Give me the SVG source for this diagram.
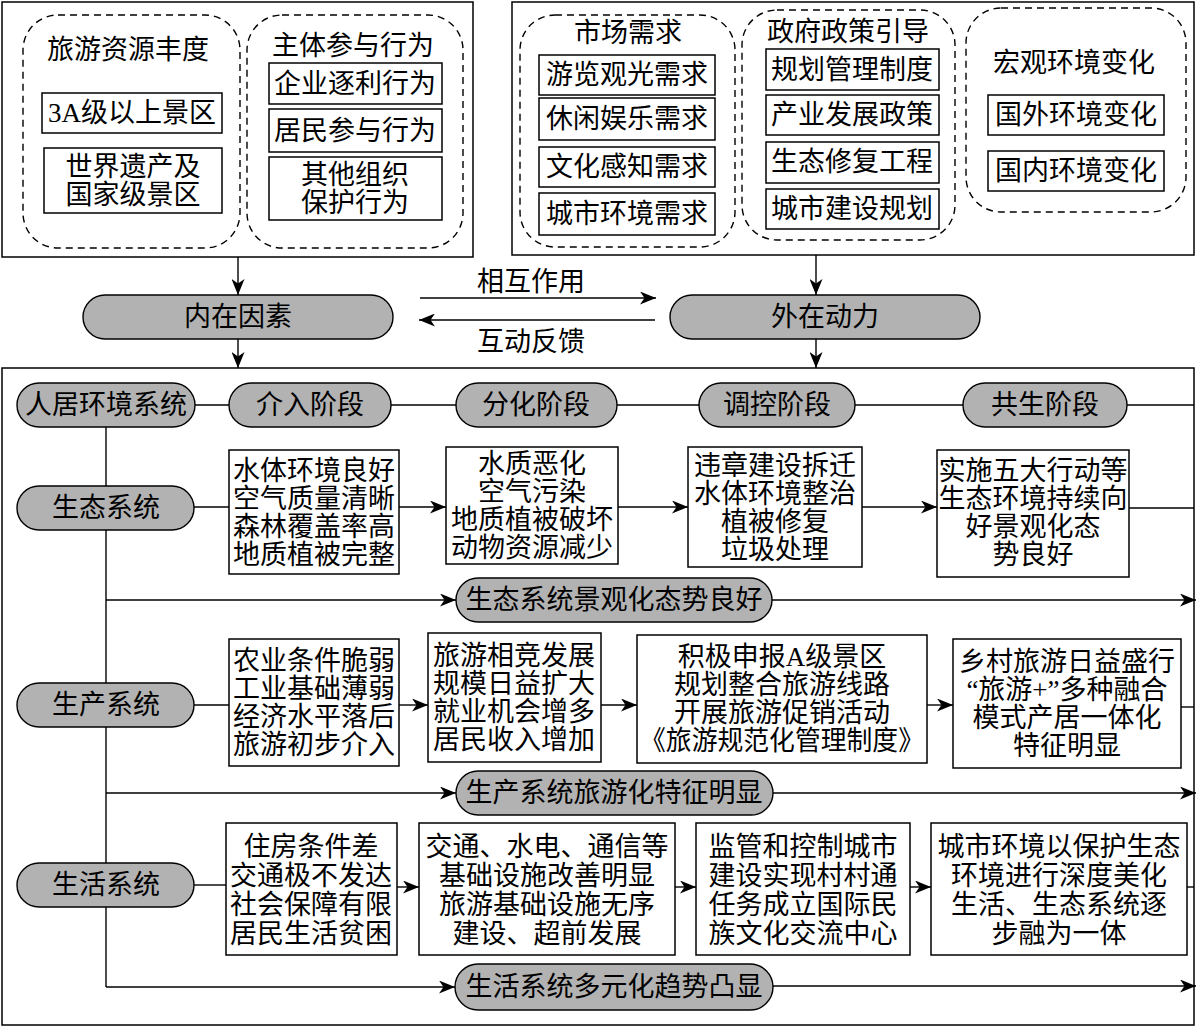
<svg xmlns="http://www.w3.org/2000/svg" width="1200" height="1027" viewBox="0 0 1200 1027">
<defs>
<marker id="ah" markerUnits="userSpaceOnUse" markerWidth="17" markerHeight="13" refX="16" refY="6.5" orient="auto">
<path d="M0,0 L16,6.5 L0,13 L4.5,6.5 z" fill="#000"/>
</marker>
<style>
text{font-family:"Liberation Serif","Noto Sans CJK SC",serif;font-size:27px;fill:#000;text-anchor:middle;dominant-baseline:central}
.frame{fill:#fff;stroke:#000;stroke-width:1.5}
.dash{fill:none;stroke:#000;stroke-width:1.4;stroke-dasharray:7 5}
.box{fill:#fff;stroke:#000;stroke-width:1.5}
.pill{fill:#b2b2b2;stroke:#000;stroke-width:1.4}
.ln{fill:none;stroke:#000;stroke-width:1.4}
.ar{fill:none;stroke:#000;stroke-width:1.4;marker-end:url(#ah)}
</style>
</defs>
<rect width="1200" height="1027" fill="#fff"/>

<g id="frames">
<rect class="frame" x="2" y="2" width="471" height="255"/>
<rect class="frame" x="512" y="2" width="682" height="253"/>
<rect class="frame" x="2" y="368" width="1192" height="657"/>
</g>

<g id="connectors">
<line class="ar" x1="238" y1="257" x2="238" y2="295"/>
<line class="ar" x1="816" y1="255" x2="816" y2="295"/>
<line class="ar" x1="420" y1="298" x2="656" y2="298"/>
<line class="ar" x1="655" y1="320" x2="419" y2="320"/>
<line class="ar" x1="238" y1="339" x2="238" y2="368"/>
<line class="ar" x1="816" y1="339" x2="816" y2="368"/>
<line class="ln" x1="195" y1="405" x2="1194" y2="405"/>
<line class="ln" x1="106" y1="427" x2="106" y2="987"/>
<line class="ln" x1="194" y1="507" x2="229" y2="507"/>
<line class="ar" x1="399" y1="507" x2="446" y2="507"/>
<line class="ar" x1="618" y1="507" x2="688" y2="507"/>
<line class="ar" x1="862" y1="507" x2="937" y2="507"/>
<line class="ln" x1="1129" y1="508" x2="1194" y2="508"/>
<line class="ar" x1="106" y1="600" x2="456" y2="600"/>
<line class="ar" x1="772" y1="600" x2="1196" y2="600"/>
<line class="ln" x1="194" y1="705" x2="229" y2="705"/>
<line class="ar" x1="399" y1="705" x2="428" y2="705"/>
<line class="ar" x1="601" y1="705" x2="637" y2="705"/>
<line class="ar" x1="927" y1="705" x2="953" y2="705"/>
<line class="ln" x1="1181" y1="707" x2="1194" y2="707"/>
<line class="ar" x1="106" y1="793" x2="456" y2="793"/>
<line class="ar" x1="773" y1="793" x2="1196" y2="793"/>
<line class="ln" x1="194" y1="885" x2="226" y2="885"/>
<line class="ar" x1="397" y1="887" x2="419" y2="887"/>
<line class="ar" x1="675" y1="887" x2="696" y2="887"/>
<line class="ar" x1="910" y1="887" x2="931" y2="887"/>
<line class="ln" x1="1187" y1="887" x2="1194" y2="887"/>
<line class="ar" x1="106" y1="987" x2="455" y2="987"/>
<line class="ar" x1="773" y1="986" x2="1196" y2="986"/>
<text x="531" y="282">相互作用</text>
<text x="531" y="342">互动反馈</text>
</g>

<g id="group-resource">
<rect class="dash" x="23" y="15" width="217" height="233" rx="35"/>
<text x="128" y="50">旅游资源丰度</text>
<g id="n-3a"><rect class="box" x="42" y="93" width="180" height="40"/><text x="132" y="113">3A级以上景区</text></g>
<g id="n-world"><rect class="box" x="44" y="148" width="178" height="65"/><text x="133" y="167">世界遗产及</text><text x="133" y="195">国家级景区</text></g>
</g>

<g id="group-actor">
<rect class="dash" x="247" y="15" width="216" height="233" rx="35"/>
<text x="353" y="46">主体参与行为</text>
<g id="n-ent"><rect class="box" x="269" y="63" width="173" height="41"/><text x="355" y="84">企业逐利行为</text></g>
<g id="n-res"><rect class="box" x="269" y="109" width="173" height="43"/><text x="355" y="131">居民参与行为</text></g>
<g id="n-org"><rect class="box" x="269" y="157" width="173" height="63"/><text x="355" y="175">其他组织</text><text x="355" y="203">保护行为</text></g>
</g>

<g id="group-market">
<rect class="dash" x="520" y="15" width="215" height="232" rx="35"/>
<text x="628" y="33">市场需求</text>
<g id="n-m1"><rect class="box" x="539" y="55" width="176" height="40"/><text x="627" y="75">游览观光需求</text></g>
<g id="n-m2"><rect class="box" x="539" y="98" width="176" height="42"/><text x="627" y="119">休闲娱乐需求</text></g>
<g id="n-m3"><rect class="box" x="539" y="147" width="176" height="40"/><text x="627" y="167">文化感知需求</text></g>
<g id="n-m4"><rect class="box" x="539" y="193" width="176" height="42"/><text x="627" y="214">城市环境需求</text></g>
</g>

<g id="group-policy">
<rect class="dash" x="742" y="10" width="213" height="230" rx="35"/>
<text x="848" y="32">政府政策引导</text>
<g id="n-p1"><rect class="box" x="766" y="49" width="173" height="41"/><text x="852" y="70">规划管理制度</text></g>
<g id="n-p2"><rect class="box" x="766" y="95" width="173" height="40"/><text x="852" y="115">产业发展政策</text></g>
<g id="n-p3"><rect class="box" x="766" y="142" width="173" height="41"/><text x="852" y="162">生态修复工程</text></g>
<g id="n-p4"><rect class="box" x="766" y="189" width="173" height="40"/><text x="852" y="209">城市建设规划</text></g>
</g>

<g id="group-macro">
<rect class="dash" x="966" y="8" width="220" height="204" rx="35"/>
<text x="1074" y="63">宏观环境变化</text>
<g id="n-e1"><rect class="box" x="988" y="95" width="176" height="40"/><text x="1076" y="115">国外环境变化</text></g>
<g id="n-e2"><rect class="box" x="988" y="151" width="176" height="40"/><text x="1076" y="171">国内环境变化</text></g>
</g>

<g id="n-inner"><rect class="pill" x="83" y="295" width="310" height="44" rx="22"/><text x="238" y="317">内在因素</text></g>
<g id="n-outer"><rect class="pill" x="670" y="295" width="310" height="44" rx="22"/><text x="825" y="317">外在动力</text></g>

<g id="n-system"><rect class="pill" x="17" y="383" width="178" height="44" rx="22"/><text x="106" y="405">人居环境系统</text></g>
<g id="n-stage1"><rect class="pill" x="229" y="383" width="162" height="44" rx="22"/><text x="310" y="405">介入阶段</text></g>
<g id="n-stage2"><rect class="pill" x="456" y="383" width="161" height="44" rx="22"/><text x="536" y="405">分化阶段</text></g>
<g id="n-stage3"><rect class="pill" x="699" y="383" width="156" height="44" rx="22"/><text x="777" y="405">调控阶段</text></g>
<g id="n-stage4"><rect class="pill" x="963" y="383" width="164" height="44" rx="22"/><text x="1045" y="405">共生阶段</text></g>

<g id="n-eco"><rect class="pill" x="17" y="486" width="177" height="44" rx="22"/><text x="106" y="508">生态系统</text></g>
<g id="n-eco1"><rect class="box" x="229" y="450" width="170" height="124"/>
<text x="314" y="471">水体环境良好</text><text x="314" y="499">空气质量清晰</text><text x="314" y="527">森林覆盖率高</text><text x="314" y="555">地质植被完整</text></g>
<g id="n-eco2"><rect class="box" x="446" y="447" width="172" height="117"/>
<text x="532" y="464">水质恶化</text><text x="532" y="492">空气污染</text><text x="532" y="520">地质植被破坏</text><text x="532" y="548">动物资源减少</text></g>
<g id="n-eco3"><rect class="box" x="688" y="447" width="174" height="120"/>
<text x="775" y="466">违章建设拆迁</text><text x="775" y="494">水体环境整治</text><text x="775" y="522">植被修复</text><text x="775" y="550">垃圾处理</text></g>
<g id="n-eco4"><rect class="box" x="937" y="450" width="192" height="127"/>
<text x="1033" y="471">实施五大行动等</text><text x="1033" y="499">生态环境持续向</text><text x="1033" y="527">好景观化态</text><text x="1033" y="555">势良好</text></g>
<g id="n-eco-out"><rect class="pill" x="456" y="578" width="316" height="44" rx="22"/><text x="614" y="600">生态系统景观化态势良好</text></g>

<g id="n-prod"><rect class="pill" x="17" y="683" width="177" height="44" rx="22"/><text x="106" y="705">生产系统</text></g>
<g id="n-prod1"><rect class="box" x="229" y="639" width="170" height="127"/>
<text x="314" y="661">农业条件脆弱</text><text x="314" y="689">工业基础薄弱</text><text x="314" y="717">经济水平落后</text><text x="314" y="745">旅游初步介入</text></g>
<g id="n-prod2"><rect class="box" x="428" y="633" width="173" height="129"/>
<text x="514" y="656">旅游相竞发展</text><text x="514" y="684">规模日益扩大</text><text x="514" y="712">就业机会增多</text><text x="514" y="740">居民收入增加</text></g>
<g id="n-prod3"><rect class="box" x="637" y="635" width="290" height="128"/>
<text x="782" y="657">积极申报A级景区</text><text x="782" y="685">规划整合旅游线路</text><text x="782" y="713">开展旅游促销活动</text><text x="782" y="741" textLength="284" lengthAdjust="spacingAndGlyphs">《旅游规范化管理制度》</text></g>
<g id="n-prod4"><rect class="box" x="953" y="639" width="228" height="129"/>
<text x="1067" y="662">乡村旅游日益盛行</text><text x="1067" y="690">“旅游+”多种融合</text><text x="1067" y="718">模式产居一体化</text><text x="1067" y="746">特征明显</text></g>
<g id="n-prod-out"><rect class="pill" x="456" y="771" width="317" height="44" rx="22"/><text x="614" y="793">生产系统旅游化特征明显</text></g>

<g id="n-life"><rect class="pill" x="17" y="863" width="177" height="44" rx="22"/><text x="106" y="885">生活系统</text></g>
<g id="n-life1"><rect class="box" x="226" y="823" width="171" height="132"/>
<text x="311" y="847">住房条件差</text><text x="311" y="876">交通极不发达</text><text x="311" y="905">社会保障有限</text><text x="311" y="934">居民生活贫困</text></g>
<g id="n-life2"><rect class="box" x="419" y="823" width="256" height="132"/>
<text x="547" y="847">交通、水电、通信等</text><text x="547" y="876">基础设施改善明显</text><text x="547" y="905">旅游基础设施无序</text><text x="547" y="934">建设、超前发展</text></g>
<g id="n-life3"><rect class="box" x="696" y="823" width="214" height="132"/>
<text x="803" y="847">监管和控制城市</text><text x="803" y="876">建设实现村村通</text><text x="803" y="905">任务成立国际民</text><text x="803" y="934">族文化交流中心</text></g>
<g id="n-life4"><rect class="box" x="931" y="823" width="256" height="132"/>
<text x="1059" y="847">城市环境以保护生态</text><text x="1059" y="876">环境进行深度美化</text><text x="1059" y="905">生活、生态系统逐</text><text x="1059" y="934">步融为一体</text></g>
<g id="n-life-out"><rect class="pill" x="455" y="964" width="318" height="46" rx="23"/><text x="614" y="987">生活系统多元化趋势凸显</text></g>
</svg>
